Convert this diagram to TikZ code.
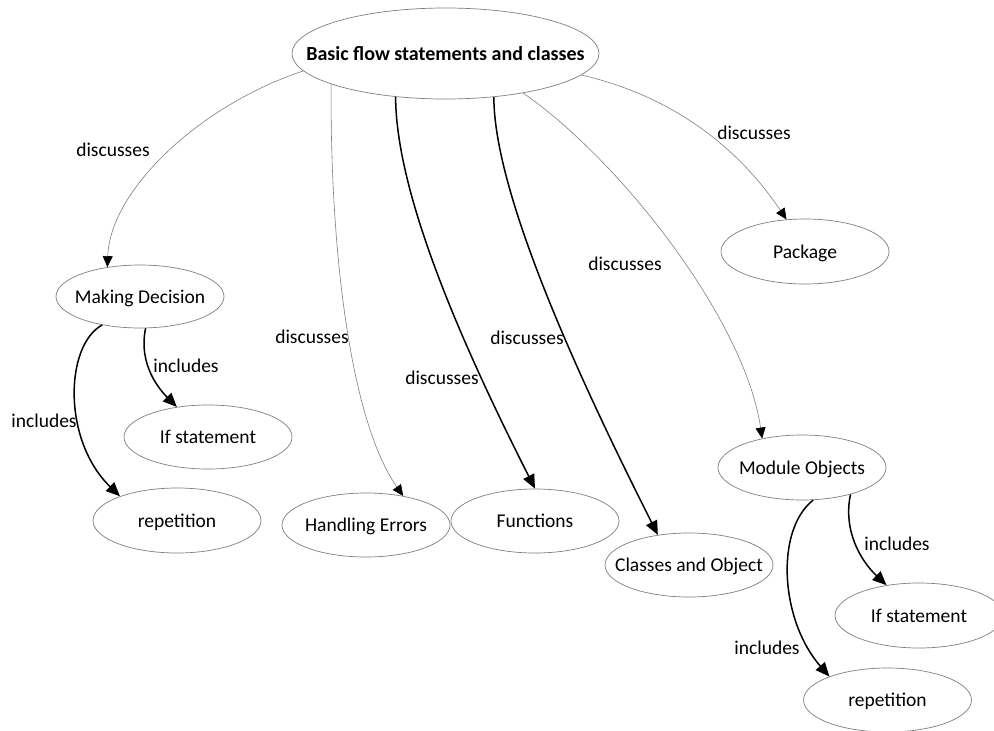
\documentclass[tikz,border=0pt]{standalone}
\usepackage{fontspec}
\setmainfont{Carlito}
\usetikzlibrary{shapes.geometric,arrows.meta}

\definecolor{rim}{HTML}{7F7F7F}
% zero-width text box so the ellipse keeps its set size
\newcommand{\zwtext}[1]{\makebox[0pt]{#1}}

\tikzset{
  topic/.style={ellipse, draw=rim, line width=0.7pt, inner sep=0pt,
    minimum width=168pt, minimum height=64pt,
    text height=13pt, text depth=0pt,
    font=\fontsize{19.5}{22}\selectfont},
  maintopic/.style={topic, minimum width=307pt, minimum height=91pt,
    font=\fontsize{20}{24}\selectfont\bfseries},
  lbl/.style={font=\fontsize{19.5}{22}\selectfont, inner sep=0pt},
  thinlink/.style={draw=rim, line width=0.6pt,
    -{Triangle[length=11pt,width=10pt,color=black]}},
  thicklink/.style={draw=black, line width=1.5pt,
    -{Triangle[length=14pt,width=12pt]}},
}

\begin{document}
\begin{tikzpicture}[x=1pt,y=-1pt]
\clip (0,0) rectangle (994,731);
\fill[white] (0,0) rectangle (994,731);

% concept nodes
\node[maintopic] (top) at (445.5,53.5) {\zwtext{Basic flow statements and classes}};
\node[topic, minimum height=63pt] (dec) at (140,296.5) {\zwtext{Making Decision}};
\node[topic] (ifl) at (208,437) {\zwtext{If statement}};
\node[topic, minimum height=65pt] (repl) at (177,520.5) {\zwtext{repetition}};
\node[topic] (err) at (366,525) {\zwtext{Handling Errors}};
\node[topic] (fun) at (535,521) {\zwtext{Functions}};
\node[topic] (cls) at (689,565) {\zwtext{Classes and Object}};
\node[topic, minimum height=65pt] (pkg) at (805,251.5) {\zwtext{Package}};
\node[topic, minimum height=65pt] (mod) at (802,467.5) {\zwtext{Module Objects}};
\node[topic, minimum height=65pt] (ifr) at (919,615.5) {\zwtext{If statement}};
\node[topic] (repr) at (887.5,700) {\zwtext{repetition}};

% links from the main topic
\draw[thinlink] (top.187) .. controls (200,105) and (110,190) .. (dec.138);
\draw[thinlink] (top.351) .. controls (690,100) and (750,165) .. (pkg.120);
\draw[thinlink] (top.195) .. controls (330,250) and (350,420) .. (err.38);
\draw[thicklink] (top.221) .. controls (396,200) and (470,360) .. (fun.90);
\draw[thicklink] (top.318) .. controls (494,200) and (590,400) .. (cls.136);
\draw[thinlink] (top.333) .. controls (620,160) and (745,320) .. (mod.144);

% links below the sub topics
\draw[thicklink] (dec.280) .. controls (138,365) and (160,390) .. (ifl.136);
\draw[thicklink] (dec.217) .. controls (65,345) and (62,440) .. (repl.157);
\draw[thicklink] (mod.331) .. controls (843,530) and (860,560) .. (ifr.137);
\draw[thicklink] (mod.289) .. controls (775,530) and (780,620) .. (repr.158);

% link labels
\node[lbl] (l1) at (113,150) {discusses};
\node[lbl] (l2) at (754,133) {discusses};
\node[lbl] (l3) at (312,337) {discusses};
\node[lbl] (l4) at (442,378) {discusses};
\node[lbl] (l5) at (527,338) {discusses};
\node[lbl] (l6) at (625,264) {discusses};
\node[lbl] (l7) at (186,366) {includes};
\node[lbl] (l8) at (44,421) {includes};
\node[lbl] (l9) at (897,544) {includes};
\node[lbl] (l10) at (767,648) {includes};
\end{tikzpicture}
\end{document}
